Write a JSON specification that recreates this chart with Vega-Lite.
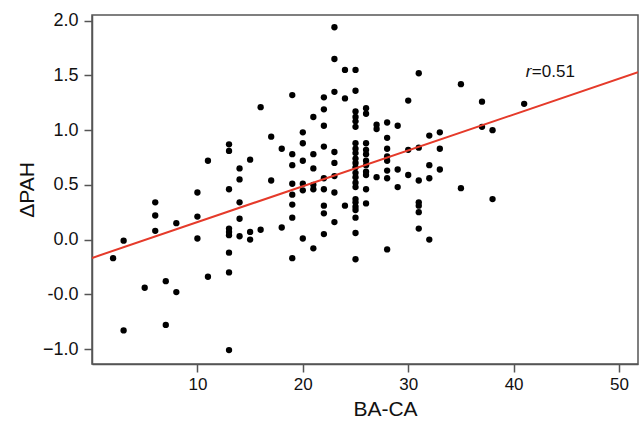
{
  "$schema": "https://vega.github.io/schema/vega-lite/v6.json",
  "autosize": "none",
  "width": 546,
  "height": 349,
  "padding": {"left": 92, "top": 15, "right": 2, "bottom": 58},
  "background": "white",
  "config": {
    "font": "Liberation Sans",
    "view": {"stroke": "#555555", "strokeWidth": 1.5},
    "axis": {
      "grid": false,
      "domainColor": "#555555",
      "domainWidth": 1.5,
      "tickColor": "#555555",
      "tickWidth": 1.5,
      "tickSize": 8,
      "labelFont": "Liberation Sans",
      "labelFontSize": 17,
      "labelColor": "#111111",
      "titleFont": "Liberation Sans",
      "titleFontSize": 21,
      "titleFontWeight": "normal",
      "titleColor": "#111111"
    }
  },
  "datasets": {
    "points": [
      {"x":2,"y":-0.17},
      {"x":3,"y":-0.01},{"x":3,"y":-0.83},
      {"x":5,"y":-0.44},
      {"x":6,"y":0.34},{"x":6,"y":0.22},{"x":6,"y":0.08},
      {"x":7,"y":-0.38},{"x":7,"y":-0.78},
      {"x":8,"y":0.15},{"x":8,"y":-0.48},
      {"x":10,"y":0.43},{"x":10,"y":0.21},{"x":10,"y":0.01},
      {"x":11,"y":0.72},{"x":11,"y":-0.34},
      {"x":13,"y":0.87},{"x":13,"y":0.81},{"x":13,"y":0.46},{"x":13,"y":0.1},{"x":13,"y":0.07},{"x":13,"y":0.04},{"x":13,"y":-0.12},{"x":13,"y":-0.3},{"x":13,"y":-1.01},
      {"x":14,"y":0.65},{"x":14,"y":0.55},{"x":14,"y":0.34},{"x":14,"y":0.19},{"x":14,"y":0.03},
      {"x":15,"y":0.73},{"x":15,"y":0.07},{"x":15,"y":0.0},
      {"x":16,"y":1.21},{"x":16,"y":0.09},
      {"x":17,"y":0.94},{"x":17,"y":0.54},
      {"x":18,"y":0.83},{"x":18,"y":0.11},
      {"x":19,"y":1.32},{"x":19,"y":0.78},{"x":19,"y":0.68},{"x":19,"y":0.51},{"x":19,"y":0.41},{"x":19,"y":0.32},{"x":19,"y":0.2},{"x":19,"y":-0.17},
      {"x":20,"y":0.98},{"x":20,"y":0.88},{"x":20,"y":0.72},{"x":20,"y":0.51},{"x":20,"y":0.45},{"x":20,"y":0.01},
      {"x":21,"y":1.12},{"x":21,"y":0.78},{"x":21,"y":0.65},{"x":21,"y":0.5},{"x":21,"y":0.46},{"x":21,"y":-0.08},
      {"x":22,"y":1.3},{"x":22,"y":1.19},{"x":22,"y":1.04},{"x":22,"y":0.85},{"x":22,"y":0.56},{"x":22,"y":0.46},{"x":22,"y":0.31},{"x":22,"y":0.24},{"x":22,"y":0.05},
      {"x":23,"y":1.94},{"x":23,"y":1.65},{"x":23,"y":1.35},{"x":23,"y":0.8},{"x":23,"y":0.7},{"x":23,"y":0.58},{"x":23,"y":0.43},{"x":23,"y":0.16},
      {"x":24,"y":1.55},{"x":24,"y":1.29},{"x":24,"y":0.31},
      {"x":25,"y":1.55},{"x":25,"y":1.36},{"x":25,"y":1.17},{"x":25,"y":1.12},{"x":25,"y":1.08},{"x":25,"y":1.03},{"x":25,"y":0.88},{"x":25,"y":0.83},{"x":25,"y":0.79},{"x":25,"y":0.74},{"x":25,"y":0.7},{"x":25,"y":0.66},{"x":25,"y":0.61},{"x":25,"y":0.57},{"x":25,"y":0.52},{"x":25,"y":0.48},{"x":25,"y":0.37},{"x":25,"y":0.34},{"x":25,"y":0.3},{"x":25,"y":0.27},{"x":25,"y":0.2},{"x":25,"y":0.06},{"x":25,"y":-0.18},
      {"x":26,"y":1.2},{"x":26,"y":1.15},{"x":26,"y":0.88},{"x":26,"y":0.82},{"x":26,"y":0.78},{"x":26,"y":0.72},{"x":26,"y":0.68},{"x":26,"y":0.62},{"x":26,"y":0.59},{"x":26,"y":0.46},{"x":26,"y":0.33},
      {"x":27,"y":1.05},{"x":27,"y":1.01},{"x":27,"y":0.57},
      {"x":28,"y":1.07},{"x":28,"y":0.93},{"x":28,"y":0.83},{"x":28,"y":0.76},{"x":28,"y":0.72},{"x":28,"y":0.63},{"x":28,"y":0.56},{"x":28,"y":-0.09},
      {"x":29,"y":1.04},{"x":29,"y":0.64},{"x":29,"y":0.48},
      {"x":30,"y":1.27},{"x":30,"y":0.82},{"x":30,"y":0.59},
      {"x":31,"y":1.52},{"x":31,"y":0.84},{"x":31,"y":0.54},{"x":31,"y":0.34},{"x":31,"y":0.31},{"x":31,"y":0.25},{"x":31,"y":0.1},
      {"x":32,"y":0.95},{"x":32,"y":0.68},{"x":32,"y":0.56},{"x":32,"y":0.0},
      {"x":33,"y":0.98},{"x":33,"y":0.83},{"x":33,"y":0.64},
      {"x":35,"y":1.42},{"x":35,"y":0.47},
      {"x":37,"y":1.26},{"x":37,"y":1.03},
      {"x":38,"y":1.0},{"x":38,"y":0.37},
      {"x":41,"y":1.24}
    ],
    "fit": [
      {"x":0,"y":-0.168},
      {"x":51.8,"y":1.529}
    ],
    "note": [
      {"x":41.73,"y":1.487,"italic":"r","rest":"=0.51"}
    ]
  },
  "layer": [
    {
      "data": {"name": "points"},
      "mark": {"type": "circle", "size": 40, "color": "#000000", "opacity": 1},
      "encoding": {
        "x": {
          "field": "x", "type": "quantitative", "title": "BA-CA",
          "scale": {"domain": [0, 51.8], "nice": false, "zero": false},
          "axis": {"values": [10,20,30,40,50], "labelPadding": 4, "titlePadding": 6, "titleX": 293, "titleAlign": "center"}
        },
        "y": {
          "field": "y", "type": "quantitative", "title": "ΔPAH",
          "scale": {"domain": [-1.137, 2.052], "nice": false, "zero": false},
          "axis": {
            "values": [-1, -0.5, 0, 0.5, 1, 1.5, 2],
            "labelExpr": "datum.value == -0.5 ? '-0.0' : format(datum.value, '.1f')",
            "labelPadding": 6,
            "labelFontSize": 18,
            "titlePadding": 5
          }
        }
      }
    },
    {
      "data": {"name": "fit"},
      "mark": {"type": "line", "color": "#e53a2a", "strokeWidth": 2, "clip": true},
      "encoding": {
        "x": {"field": "x", "type": "quantitative"},
        "y": {"field": "y", "type": "quantitative"}
      }
    },
    {
      "data": {"name": "note"},
      "mark": {"type": "text", "align": "right", "baseline": "alphabetic", "fontSize": 17, "fontStyle": "italic", "font": "Liberation Sans", "color": "#111111", "dx": -0.5},
      "encoding": {
        "x": {"field": "x", "type": "quantitative"},
        "y": {"field": "y", "type": "quantitative"},
        "text": {"field": "italic"}
      }
    },
    {
      "data": {"name": "note"},
      "mark": {"type": "text", "align": "left", "baseline": "alphabetic", "fontSize": 17, "font": "Liberation Sans", "color": "#111111"},
      "encoding": {
        "x": {"field": "x", "type": "quantitative"},
        "y": {"field": "y", "type": "quantitative"},
        "text": {"field": "rest"}
      }
    }
  ]
}
